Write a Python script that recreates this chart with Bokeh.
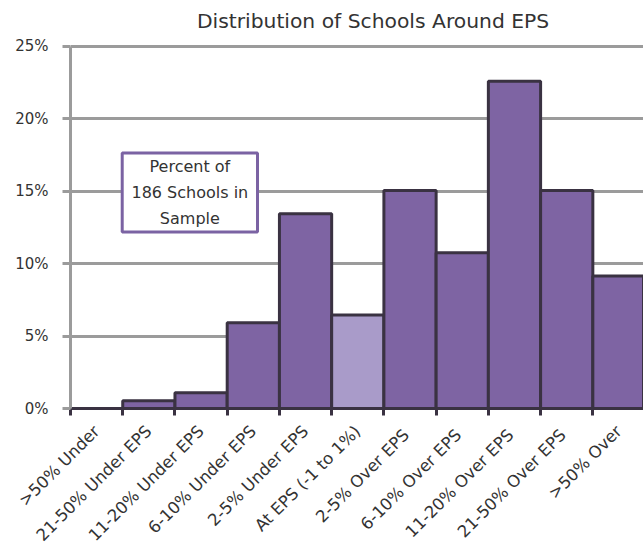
import math
from bokeh.plotting import figure
from bokeh.models import ColumnDataSource, FixedTicker, Range1d, Label, BoxAnnotation
from bokeh.embed import file_html
from bokeh.resources import INLINE

# ---- data ----
categories = [">50% Under", "21-50% Under EPS", "11-20% Under EPS", "6-10% Under EPS",
              "2-5% Under EPS", "At EPS (-1 to 1%)", "2-5% Over  EPS", "6-10% Over  EPS",
              "11-20% Over  EPS", "21-50% Over  EPS", ">50% Over"]
percent = [0.0, 0.54, 1.08, 5.91, 13.44, 6.45, 15.05, 10.75, 22.58, 15.05, 9.14]
highlight = "At EPS (-1 to 1%)"
y_ticks = [0, 5, 10, 15, 20, 25]
note_text = "Percent of\n186 Schools in\nSample"
title_text = "Distribution of Schools Around EPS"

FONT = "DejaVu Sans"
BAR = "#7e64a3"
BAR_LIGHT = "#a99bc9"
EDGE = "#3a3242"
GRID = "#9b9b9b"
TEXT = "#333333"

n = len(categories)
centers = [i + 0.5 for i in range(n)]
colors = [BAR_LIGHT if c == highlight else BAR for c in categories]
src = ColumnDataSource(dict(x=centers, top=percent, color=colors, cat=categories))

y_max = y_ticks[-1]
# extra headroom above the last tick holds the title inside the frame
p = figure(width=643, height=557, output_backend="svg", toolbar_location=None,
           x_range=Range1d(0, 10.97), y_range=Range1d(0, 28.16),
           min_border_left=70, min_border_right=0, min_border_top=0,
           min_border_bottom=149)
p.outline_line_color = None
p.background_fill_color = "white"
p.border_fill_color = "white"

# grid
p.xgrid.grid_line_color = None
p.ygrid.ticker = FixedTicker(ticks=y_ticks[1:])
p.ygrid.grid_line_color = GRID
p.ygrid.grid_line_width = 3

# y axis
p.yaxis.ticker = FixedTicker(ticks=y_ticks)
p.yaxis.bounds = (0, y_max)
p.yaxis.major_label_overrides = {t: f"{t}%" for t in y_ticks}
p.yaxis.axis_line_color = GRID
p.yaxis.axis_line_width = 3
p.yaxis.major_tick_line_color = GRID
p.yaxis.major_tick_line_width = 3
p.yaxis.major_tick_out = 8
p.yaxis.major_tick_in = 0
p.yaxis.minor_tick_line_color = None
p.yaxis.major_label_text_font = FONT
p.yaxis.major_label_text_font_size = "15px"
p.yaxis.major_label_text_color = TEXT
p.yaxis.major_label_standoff = 14

# x axis
p.xaxis.ticker = FixedTicker(ticks=centers, minor_ticks=list(range(n + 1)))
p.xaxis.major_label_overrides = {c: lab for c, lab in zip(centers, categories)}
p.xaxis.major_label_orientation = math.pi / 4
p.xaxis.major_tick_line_color = None
p.xaxis.minor_tick_line_color = EDGE
p.xaxis.minor_tick_line_width = 3
p.xaxis.minor_tick_out = 7
p.xaxis.minor_tick_in = 0
p.xaxis.axis_line_color = EDGE
p.xaxis.axis_line_width = 3
p.xaxis.major_label_text_font = FONT
p.xaxis.major_label_text_font_size = "16.5px"
p.xaxis.major_label_text_color = TEXT
p.xaxis.major_label_standoff = 13

p.vbar(x="x", top="top", width=1.0, bottom=0, source=src, fill_color="color",
       line_color=EDGE, line_width=3)

# title
title = Label(x=2.42, y=26.75, text=title_text, text_align="left",
              text_baseline="alphabetic", text_font=FONT, text_font_size="20.3px",
              text_color=TEXT)
p.add_layout(title)

# note box
box = BoxAnnotation(left=0.99, right=3.58, top=17.63, bottom=12.18,
                    fill_color="white", fill_alpha=1.0,
                    line_color="#7b63a3", line_alpha=1.0, line_width=3, level="overlay")
p.add_layout(box)
note = Label(x=2.285, y=14.9, text=note_text, text_align="center",
             text_baseline="middle", text_font=FONT, text_font_size="16px",
             text_color=TEXT, text_line_height=1.35, level="overlay")
p.add_layout(note)

open("out.html", "w").write(file_html(p, INLINE))
